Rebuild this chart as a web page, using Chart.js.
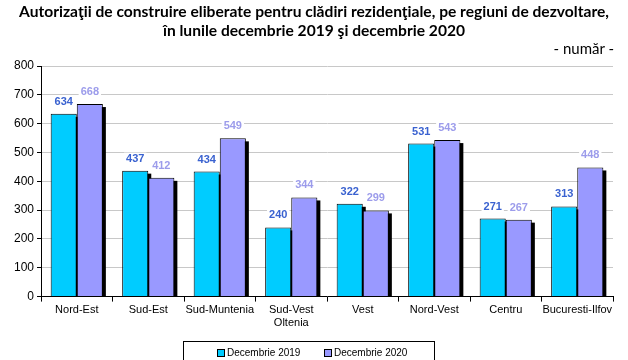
<!DOCTYPE html>
<html><head><meta charset="utf-8">
<script src="https://cdn.jsdelivr.net/npm/chart.js@4"></script>
<style>
html,body{margin:0;padding:0;background:#fff;}
#wrap{position:relative;width:628px;height:360px;overflow:hidden;}
#title{position:absolute;left:0;top:2px;width:628px;text-align:center;font-family:Lato,"Open Sans",sans-serif;font-weight:bold;font-size:15.6px;line-height:19px;color:#000;}
#unit{position:absolute;right:14px;top:39px;font-family:Lato,"Open Sans",sans-serif;font-size:15px;color:#000;}
#legend{position:absolute;left:183px;top:341px;width:252px;height:30px;border:1px solid #000;box-sizing:border-box;font-family:"Liberation Sans",Arial,sans-serif;font-size:10px;}
.li{position:absolute;top:5px;display:flex;align-items:center;}
.sw{width:6px;height:6px;border:1px solid #000;margin-right:2px;}
canvas{position:absolute;left:0;top:0;}
</style></head>
<body><div id="wrap">
<canvas id="c" width="628" height="360"></canvas>
<div id="title">Autorizaţii de construire eliberate pentru clădiri rezidenţiale, pe regiuni de dezvoltare,<br>în lunile decembrie 2019 şi decembrie 2020</div>
<div id="unit">- număr -</div>
<div id="legend"></div>
</div>
<script>
const categories = ["Nord-Est","Sud-Est","Sud-Muntenia",["Sud-Vest","Oltenia"],"Vest","Nord-Vest","Centru","Bucuresti-Ilfov"];
const series2019 = [634,437,434,240,322,531,271,313];
const series2020 = [668,412,549,344,299,543,267,448];
const seriesNames = ["Decembrie 2019","Decembrie 2020"];
const yTicks = [0,100,200,300,400,500,600,700,800];

const barColors = ["#00CCFF","#9999FF"];
const labelColors = ["#3A62D0","#9C9CEB"];

const shadowPlugin = {
  id:'shadow',
  beforeDatasetsDraw(chart){
    const ctx = chart.ctx;
    ctx.save();
    ctx.fillStyle = '#000';
    chart.data.datasets.forEach((ds,i)=>{
      chart.getDatasetMeta(i).data.forEach(b=>{
        const w = b.width;
        const left = b.x - w/2;
        ctx.fillRect(left+3, b.y+3, w, b.base - b.y - 3);
      });
    });
    ctx.restore();
  }
};
const labelPlugin = {
  id:'labels',
  afterDatasetsDraw(chart){
    const ctx = chart.ctx;
    ctx.save();
    ctx.font = 'bold 11px "Liberation Sans", Arial, sans-serif';
    ctx.textAlign = 'center';
    ctx.textBaseline = 'middle';
    chart.data.datasets.forEach((ds,i)=>{
      chart.getDatasetMeta(i).data.forEach((b,j)=>{
        const t = String(ds.data[j]);
        const tw = ctx.measureText(t).width;
        const y = b.y - 12;
        ctx.fillStyle = '#fff';
        ctx.fillRect(b.x - tw/2 - 2, y - 6, tw + 4, 12);
        ctx.fillStyle = labelColors[i];
        ctx.fillText(t, b.x, y);
      });
    });
    ctx.restore();
  }
};

new Chart(document.getElementById('c'), {
  type:'bar',
  data:{
    labels:categories,
    datasets:[
      {label:seriesNames[0], data:series2019, backgroundColor:barColors[0], borderColor:'#000', borderWidth:1, borderSkipped:'bottom'},
      {label:seriesNames[1], data:series2020, backgroundColor:barColors[1], borderColor:'#000', borderWidth:1, borderSkipped:'bottom'}
    ]
  },
  options:{
    responsive:false, animation:false,
    devicePixelRatio:1,
    categoryPercentage:0.73, barPercentage:1.0,
    layout:{padding:{top:66,left:11,right:15,bottom:28}},
    plugins:{legend:{display:false}, title:{display:false}, tooltip:{enabled:false}},
    scales:{
      x:{
        grid:{offset:true, drawOnChartArea:false, color:'#000', tickLength:5, tickColor:'#000'},
        border:{color:'#000', width:1},
        ticks:{color:'#000', font:{family:'"Liberation Sans", Arial, sans-serif', size:11}, maxRotation:0, autoSkip:false, padding:2}
      },
      y:{
        min:0, max:800,
        afterBuildTicks(s){ s.ticks = yTicks.map(v=>({value:v})); },
        grid:{color:'#c8c8c8', tickLength:4, tickColor:'#000'},
        border:{color:'#000', width:1},
        ticks:{color:'#000', font:{family:'"Liberation Sans", Arial, sans-serif', size:12}, padding:3}
      }
    }
  },
  plugins:[shadowPlugin,labelPlugin]
});

const lg = document.getElementById('legend');
const pos = [33,140];
seriesNames.forEach((n,i)=>{
  const d = document.createElement('div');
  d.className='li'; d.style.left=pos[i]+'px';
  d.innerHTML = '<span class="sw" style="background:'+barColors[i]+'"></span>'+n;
  lg.appendChild(d);
});
</script>
</body></html>
